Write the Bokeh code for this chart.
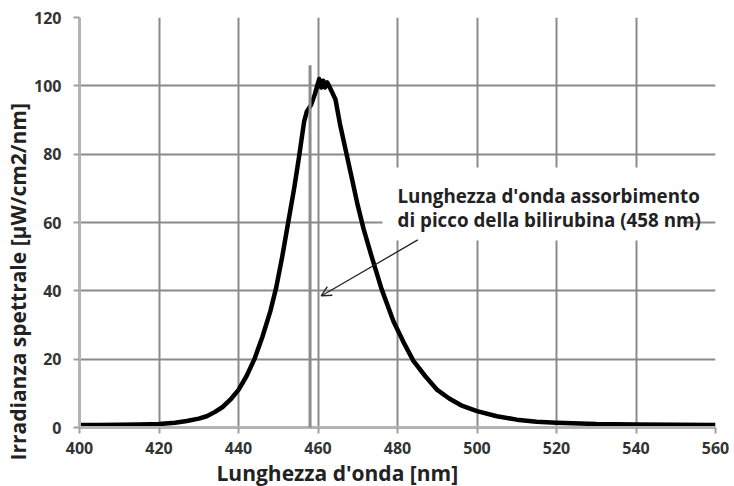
from bokeh.plotting import figure
from bokeh.models import Range1d, FixedTicker, Arrow, OpenHead, Label, Title
from bokeh.embed import file_html
from bokeh.resources import INLINE

# Spectral irradiance of the LED
wavelength = [400, 405, 410, 415, 420, 424, 427, 430, 432, 434, 436, 438, 440, 442, 444,
              446, 448, 449.5, 451, 452.5, 454, 455.2, 456.5, 457.2, 458.3, 459.2, 459.8,
              460.3, 460.8, 461.3, 461.8, 462.3, 462.8, 463.4, 464.4, 465.5, 467, 468.5,
              470, 471.5, 473.5, 476, 479, 481.5, 484, 487, 490, 493, 496, 500, 505, 510,
              515, 520, 530, 540, 550, 560]
irradiance = [0.7, 0.7, 0.8, 0.9, 1.0, 1.4, 1.9, 2.6, 3.3, 4.5, 6.0, 8.2, 11, 15, 20,
              26.5, 34, 41, 50, 60, 70, 79, 89.5, 92.5, 94.5, 97.5, 100,
              102, 99.5, 101.5, 99.5, 101, 100, 98.5, 96, 89, 81, 73,
              65, 58, 50, 40.5, 31, 25, 19.5, 15, 11, 8.5, 6.5, 4.8, 3.3, 2.3,
              1.7, 1.4, 1.0, 0.9, 0.8, 0.7]

bilirubin_peak = 458
x_ticks = [400, 420, 440, 460, 480, 500, 520, 540, 560]
y_ticks = [0, 20, 40, 60, 80, 100, 120]
x_title = "Lunghezza d'onda [nm]"
y_title = "Irradianza spettrale [µW/cm2/nm]"
annotation_lines = ["Lunghezza d'onda assorbimento", "di picco della bilirubina (458 nm)"]

p = figure(width=734, height=486, output_backend="svg", toolbar_location=None,
           x_range=Range1d(400, 560), y_range=Range1d(0, 120),
           min_border_left=79, min_border_right=19, min_border_top=17, min_border_bottom=59)
p.outline_line_color = None
p.background_fill_color = "white"
p.border_fill_color = "white"

for ax in (p.xaxis[0], p.yaxis[0]):
    ax.axis_line_color = "#b4b4b4"
    ax.axis_line_width = 3
    ax.major_tick_line_color = "#a0a0a0"
    ax.major_tick_line_width = 2
    ax.major_tick_in = 0
    ax.major_tick_out = 6
    ax.minor_tick_line_color = None
    ax.major_label_text_font = "Open Sans"
    ax.major_label_text_font_style = "bold"
    ax.major_label_text_font_size = "16px"
    ax.major_label_text_color = "#333333"

p.xaxis.ticker = FixedTicker(ticks=x_ticks)
p.yaxis.ticker = FixedTicker(ticks=y_ticks)
p.xaxis.major_label_standoff = 8
p.yaxis.major_label_standoff = 12

p.xgrid.ticker = FixedTicker(ticks=x_ticks)
p.ygrid.ticker = FixedTicker(ticks=y_ticks)
p.grid.grid_line_color = "#8a8a8a"
p.grid.grid_line_width = 2

# axis titles placed off-centre like the original
p.add_layout(Title(text=x_title, align="left", offset=137, standoff=0,
                   text_font="Open Sans", text_font_size="21px", text_font_style="bold",
                   text_color="#222222"), "below")
p.add_layout(Title(text=y_title, align="left", offset=-33, standoff=0,
                   text_font="Open Sans", text_font_size="21px", text_font_style="bold",
                   text_color="#222222"), "left")

# white box behind the annotation text
p.quad(left=[476.2], right=[551.9], bottom=[54.7], top=[76.1],
       fill_color="white", line_color=None)

# bilirubin peak marker line
p.add_layout(Arrow(end=None, x_start=bilirubin_peak, y_start=-3.5,
                   x_end=bilirubin_peak, y_end=106,
                   line_color="#8c8c8c", line_width=3))

# spectrum
p.line(wavelength, irradiance, line_color="black", line_width=4.5, line_join="round")

# annotation arrow
p.add_layout(Arrow(end=OpenHead(size=10, line_color="#222222", line_width=1.3),
                   x_start=485.1, y_start=54.9, x_end=460.8, y_end=38.5,
                   line_color="#222222", line_width=1.3))

for i, t in enumerate(annotation_lines):
    p.add_layout(Label(x=480.0, y=67.7 - i * 7.1, text=t, text_font="Open Sans",
                       text_font_size="18.8px", text_font_style="bold",
                       text_color="#222222", text_baseline="alphabetic"))

open("out.html", "w").write(file_html(p, INLINE))
